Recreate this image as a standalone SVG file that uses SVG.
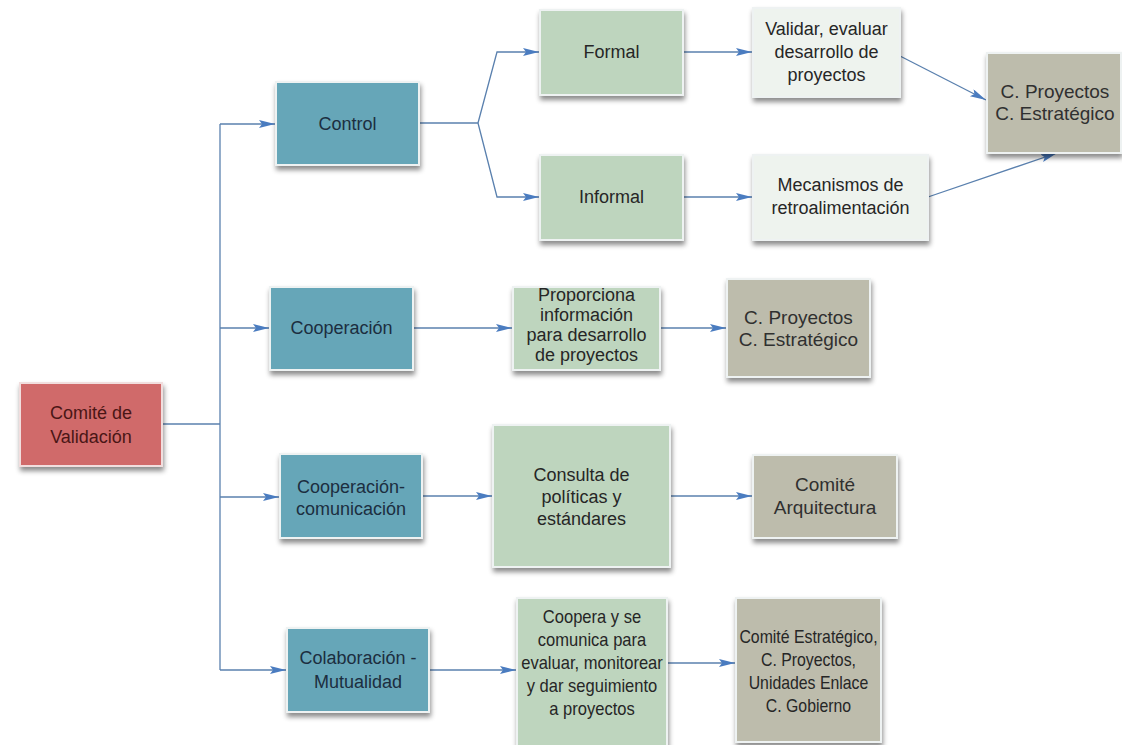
<svg xmlns="http://www.w3.org/2000/svg" width="1122" height="745" viewBox="0 0 1122 745">
  <defs>
    <filter id="shadow" x="-10%" y="-10%" width="130%" height="140%">
      <feDropShadow dx="1" dy="4" stdDeviation="2.5" flood-color="#000" flood-opacity="0.45"/>
    </filter>
    <marker id="arrow" markerUnits="userSpaceOnUse" markerWidth="18" markerHeight="10" refX="16" refY="4" orient="auto">
      <path d="M0,0 L16,4 L0,8 L3,4 z" fill="#4a7cc0"/>
    </marker>
    <style>
      .box { stroke: #eef2f2; stroke-width: 2; filter: url(#shadow); }
      .red { fill: #d06a6a; stroke: #f1dede; }
      .teal { fill: #66a6b8; }
      .green { fill: #bed5be; }
      .pale { fill: #eef3ee; }
      .grey { fill: #bdbcac; }
      text { font-family: "Liberation Sans", Arial, sans-serif; font-size: 18px; text-anchor: middle; fill: #262626; }
      .tred { fill: #4a1616; }
      .tteal { fill: #1c2e40; }
      .tg { font-size: 19px; fill: #303030; }
      .link { fill: none; stroke: #5a80ae; stroke-width: 1.3; }
      .arr { marker-end: url(#arrow); }
    </style>
  </defs>

  <rect width="1122" height="745" fill="#ffffff"/>

  <!-- connectors -->
  <g id="connectors">
    <path class="link" d="M162,424 H220"/>
    <path class="link" d="M220,124 V670"/>
    <path class="link arr" d="M220,124 H275"/>
    <path class="link arr" d="M220,328 H269"/>
    <path class="link arr" d="M220,497 H279"/>
    <path class="link arr" d="M220,670 H286"/>
    <path class="link" d="M419,123 H478"/>
    <path class="link arr" d="M478,123 L497,52 H539"/>
    <path class="link arr" d="M478,123 L497,197 H539"/>
    <path class="link arr" d="M683,52 H752"/>
    <path class="link arr" d="M683,197 H752"/>
    <path class="link arr" d="M900,56 L986,100"/>
    <path class="link arr" d="M928,197 L1057,153"/>
    <path class="link arr" d="M413,328 H512"/>
    <path class="link arr" d="M660,328 H726"/>
    <path class="link arr" d="M422,496 H492"/>
    <path class="link arr" d="M670,496 H752"/>
    <path class="link arr" d="M429,670 H516"/>
    <path class="link arr" d="M667,663 H735"/>
  </g>

  <!-- root -->
  <g id="comite-validacion">
    <rect class="box red" x="20" y="383" width="142" height="83"/>
    <text class="tred" x="91" y="419">Comité de</text>
    <text class="tred" x="91" y="443">Validación</text>
  </g>

  <!-- control branch -->
  <g id="control">
    <rect class="box teal" x="276" y="82" width="143" height="83"/>
    <text class="tteal" x="347.5" y="130">Control</text>
  </g>
  <g id="formal">
    <rect class="box green" x="540" y="10" width="143" height="85"/>
    <text x="611.5" y="58">Formal</text>
  </g>
  <g id="informal">
    <rect class="box green" x="540" y="155" width="143" height="85"/>
    <text x="611.5" y="203">Informal</text>
  </g>
  <g id="validar">
    <rect class="box pale" x="753" y="8" width="147" height="89"/>
    <text x="826.5" y="35">Validar, evaluar</text>
    <text x="826.5" y="58">desarrollo de</text>
    <text x="826.5" y="81">proyectos</text>
  </g>
  <g id="mecanismos">
    <rect class="box pale" x="753" y="155" width="175" height="85"/>
    <text x="840.5" y="191">Mecanismos de</text>
    <text x="840.5" y="214">retroalimentación</text>
  </g>
  <g id="proyectos-estrategico-1">
    <rect class="box grey" x="987" y="53" width="134" height="100"/>
    <text class="tg" x="1055" y="98">C. Proyectos</text>
    <text class="tg" x="1055" y="120">C. Estratégico</text>
  </g>

  <!-- cooperation branch -->
  <g id="cooperacion">
    <rect class="box teal" x="270" y="287" width="143" height="83"/>
    <text class="tteal" x="341.5" y="334">Cooperación</text>
  </g>
  <g id="proporciona">
    <rect class="box green" x="513" y="287" width="147" height="83"/>
    <text x="586.5" y="301">Proporciona</text>
    <text x="586.5" y="321">información</text>
    <text x="586.5" y="341">para desarrollo</text>
    <text x="586.5" y="361">de proyectos</text>
  </g>
  <g id="proyectos-estrategico-2">
    <rect class="box grey" x="727" y="279" width="143" height="98"/>
    <text class="tg" x="798.5" y="324">C. Proyectos</text>
    <text class="tg" x="798.5" y="346">C. Estratégico</text>
  </g>

  <!-- cooperation-communication branch -->
  <g id="cooperacion-comunicacion">
    <rect class="box teal" x="280" y="454" width="142" height="84"/>
    <text class="tteal" x="351" y="493">Cooperación-</text>
    <text class="tteal" x="351" y="515">comunicación</text>
  </g>
  <g id="consulta">
    <rect class="box green" x="493" y="425" width="177" height="142"/>
    <text x="581.5" y="481">Consulta de</text>
    <text x="581.5" y="503">políticas y</text>
    <text x="581.5" y="525">estándares</text>
  </g>
  <g id="comite-arquitectura">
    <rect class="box grey" x="753" y="455" width="144" height="83"/>
    <text class="tg" x="825" y="491">Comité</text>
    <text class="tg" x="825" y="514">Arquitectura</text>
  </g>

  <!-- collaboration branch -->
  <g id="colaboracion">
    <rect class="box teal" x="287" y="628" width="142" height="84"/>
    <text class="tteal" x="358" y="664">Colaboración -</text>
    <text class="tteal" x="358" y="688">Mutualidad</text>
  </g>
  <g id="coopera">
    <rect class="box green" x="517" y="598" width="150" height="160"/>
    <g transform="translate(592 0) scale(0.92 1) translate(-592 0)">
      <text x="592" y="623">Coopera y se</text>
      <text x="592" y="646">comunica para</text>
      <text x="592" y="669">evaluar, monitorear</text>
      <text x="592" y="692">y dar seguimiento</text>
      <text x="592" y="715">a proyectos</text>
    </g>
  </g>
  <g id="comite-estrategico">
    <rect class="box grey" x="736" y="598" width="145" height="144"/>
    <g transform="translate(808.5 0) scale(0.88 1) translate(-808.5 0)">
      <text x="808.5" y="643">Comité Estratégico,</text>
      <text x="808.5" y="666">C. Proyectos,</text>
      <text x="808.5" y="689">Unidades Enlace</text>
      <text x="808.5" y="712">C. Gobierno</text>
    </g>
  </g>
</svg>
